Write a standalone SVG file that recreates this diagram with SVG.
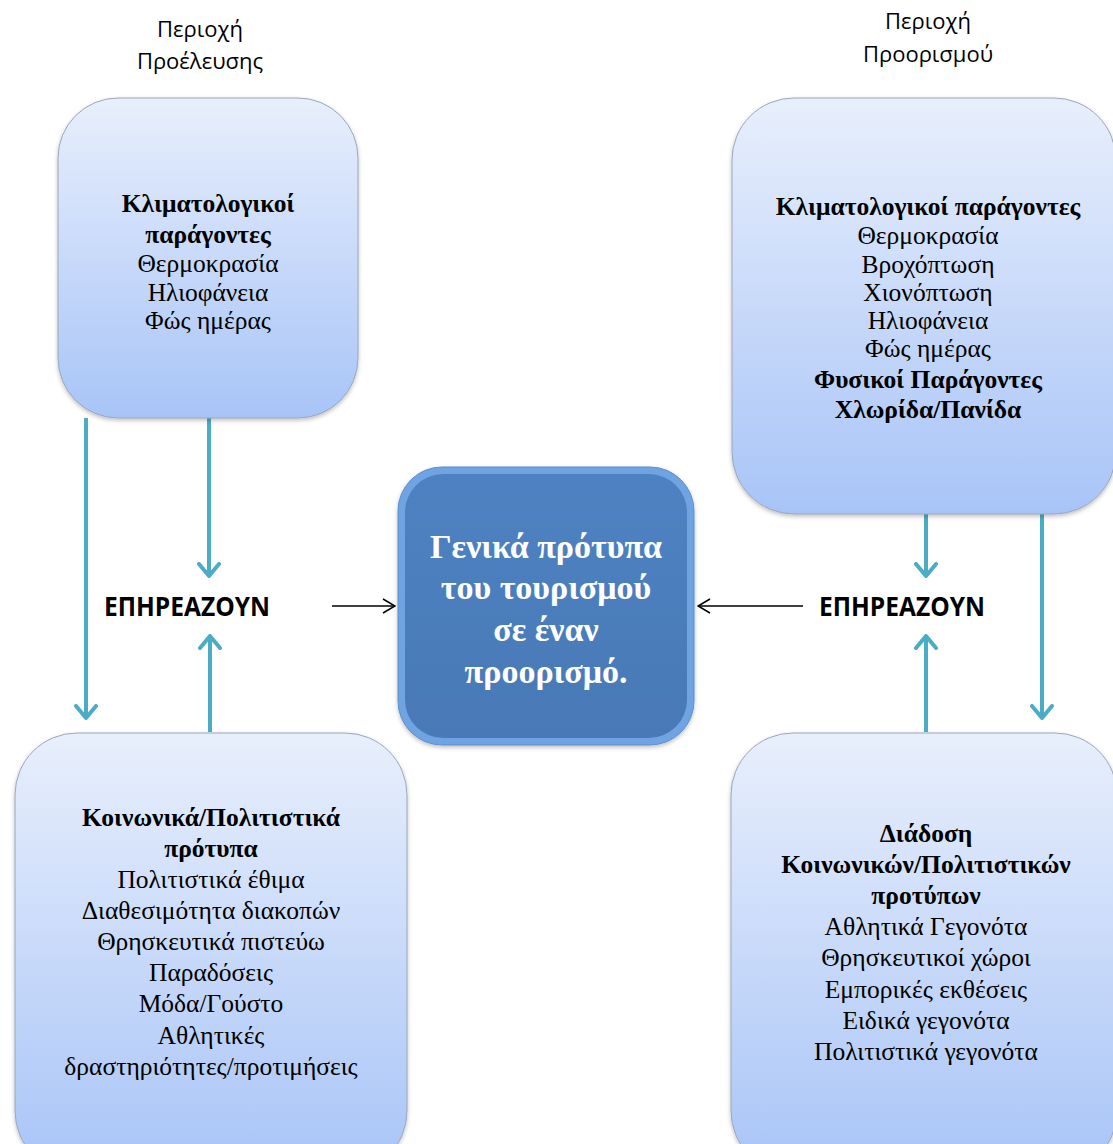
<svg xmlns="http://www.w3.org/2000/svg" width="1113" height="1144" viewBox="0 0 1113 1144">
<defs>
<linearGradient id="boxGrad" x1="0" y1="0" x2="0" y2="1">
<stop offset="0" stop-color="#e8effc"/>
<stop offset="1" stop-color="#a8c4f7"/>
</linearGradient>
<linearGradient id="centerGrad" x1="0" y1="0" x2="0" y2="1">
<stop offset="0" stop-color="#4d82c2"/>
<stop offset="1" stop-color="#4979b6"/>
</linearGradient>
<filter id="shadow" x="-10%" y="-10%" width="120%" height="120%">
<feDropShadow dx="0" dy="2" stdDeviation="2" flood-color="#000" flood-opacity="0.25"/>
</filter>
<marker id="tealHead" viewBox="0 0 16 24" refX="14" refY="12" markerWidth="16" markerHeight="24" markerUnits="userSpaceOnUse" orient="auto">
<path d="M2,2 L14,12 L2,22" fill="none" stroke="#4bacc6" stroke-width="4" stroke-linecap="round" stroke-linejoin="round"/>
</marker>
<marker id="blackHead" viewBox="0 0 14 16" refX="13" refY="8" markerWidth="14" markerHeight="16" markerUnits="userSpaceOnUse" orient="auto">
<path d="M1,1 L13,8 L1,15" fill="none" stroke="#000" stroke-width="1.5"/>
</marker>
<style>
.box { fill: url(#boxGrad); stroke: #9aa6ba; stroke-width: 1; filter: url(#shadow); }
.t { font-family: "Liberation Serif", "Times New Roman", serif; font-size: 25.5px; fill: #000; text-anchor: middle; }
.b { font-weight: bold; }
.hdr { font-family: "Open Sans", "Liberation Sans", sans-serif; font-size: 22px; fill: #000; text-anchor: middle; }
.lbl { font-family: "Open Sans", "Liberation Sans", sans-serif; font-size: 27px; font-weight: bold; fill: #000; text-anchor: middle; }
.ct { font-family: "Liberation Serif", "Times New Roman", serif; font-size: 34px; font-weight: bold; fill: #ffffff; text-anchor: middle; }
.teal { stroke: #4bacc6; stroke-width: 4; fill: none; marker-end: url(#tealHead); }
.blk { stroke: #000; stroke-width: 1.5; fill: none; marker-end: url(#blackHead); }
</style>
</defs>
<rect width="1113" height="1144" fill="#ffffff"/>

<g id="headers">
<text class="hdr" x="200" y="37">Περιοχή</text>
<text class="hdr" x="200" y="69">Προέλευσης</text>
<text class="hdr" x="928" y="29">Περιοχή</text>
<text class="hdr" x="928" y="62">Προορισμού</text>
</g>

<g id="connectors">
<line class="teal" x1="86" y1="418" x2="86" y2="718"/>
<line class="teal" x1="209" y1="418" x2="209" y2="576"/>
<line class="teal" x1="210" y1="732" x2="210" y2="636"/>
<line class="teal" x1="926" y1="514" x2="926" y2="576"/>
<line class="teal" x1="1042" y1="514" x2="1042" y2="718"/>
<line class="teal" x1="926" y1="732" x2="926" y2="636"/>
<line class="blk" x1="332" y1="606" x2="395" y2="606"/>
<line class="blk" x1="803" y1="606" x2="698" y2="606"/>
</g>

<g id="origin-climate">
<rect class="box" x="58" y="98" width="300" height="320" rx="60" ry="60"/>
<text class="t b" x="208" y="212">Κλιματολογικοί</text>
<text class="t b" x="208" y="243">παράγοντες</text>
<text class="t" x="208" y="272">Θερμοκρασία</text>
<text class="t" x="208" y="301">Ηλιοφάνεια</text>
<text class="t" x="208" y="329">Φώς ημέρας</text>
</g>

<g id="dest-climate">
<rect class="box" x="732" y="98" width="384" height="416" rx="62" ry="62"/>
<text class="t b" x="928" y="215">Κλιματολογικοί παράγοντες</text>
<text class="t" x="928" y="244">Θερμοκρασία</text>
<text class="t" x="928" y="273">Βροχόπτωση</text>
<text class="t" x="928" y="301">Χιονόπτωση</text>
<text class="t" x="928" y="329">Ηλιοφάνεια</text>
<text class="t" x="928" y="357">Φώς ημέρας</text>
<text class="t b" x="928" y="388">Φυσικοί Παράγοντες</text>
<text class="t b" x="928" y="418">Χλωρίδα/Πανίδα</text>
</g>

<g id="label-left">
<text class="lbl" x="187" y="616" textLength="166" lengthAdjust="spacingAndGlyphs">ΕΠΗΡΕΑΖΟΥΝ</text>
</g>
<g id="label-right">
<text class="lbl" x="902" y="616" textLength="166" lengthAdjust="spacingAndGlyphs">ΕΠΗΡΕΑΖΟΥΝ</text>
</g>

<g id="center">
<rect x="398" y="467" width="296" height="278" rx="44" ry="44" fill="#6fa3e2" stroke="#5b8fd0" stroke-width="1" filter="url(#shadow)"/>
<rect x="405" y="474" width="282" height="264" rx="38" ry="38" fill="url(#centerGrad)"/>
<text class="ct" x="546" y="558">Γενικά πρότυπα</text>
<text class="ct" x="546" y="599">του τουρισμού</text>
<text class="ct" x="546" y="641">σε έναν</text>
<text class="ct" x="546" y="683">προορισμό.</text>
</g>

<g id="origin-social">
<rect class="box" x="15" y="733" width="392" height="440" rx="62" ry="62"/>
<text class="t b" x="211" y="826">Κοινωνικά/Πολιτιστικά</text>
<text class="t b" x="211" y="857">πρότυπα</text>
<text class="t" x="211" y="888">Πολιτιστικά έθιμα</text>
<text class="t" x="211" y="919">Διαθεσιμότητα διακοπών</text>
<text class="t" x="211" y="950">Θρησκευτικά πιστεύω</text>
<text class="t" x="211" y="981">Παραδόσεις</text>
<text class="t" x="211" y="1012">Μόδα/Γούστο</text>
<text class="t" x="211" y="1044">Αθλητικές</text>
<text class="t" x="211" y="1075">δραστηριότητες/προτιμήσεις</text>
</g>

<g id="dest-social">
<rect class="box" x="731" y="733" width="386" height="440" rx="62" ry="62"/>
<text class="t b" x="926" y="842">Διάδοση</text>
<text class="t b" x="926" y="873">Κοινωνικών/Πολιτιστικών</text>
<text class="t b" x="926" y="904">προτύπων</text>
<text class="t" x="926" y="935">Αθλητικά Γεγονότα</text>
<text class="t" x="926" y="966">Θρησκευτικοί χώροι</text>
<text class="t" x="926" y="998">Εμπορικές εκθέσεις</text>
<text class="t" x="926" y="1029">Ειδικά γεγονότα</text>
<text class="t" x="926" y="1060">Πολιτιστικά γεγονότα</text>
</g>
</svg>
